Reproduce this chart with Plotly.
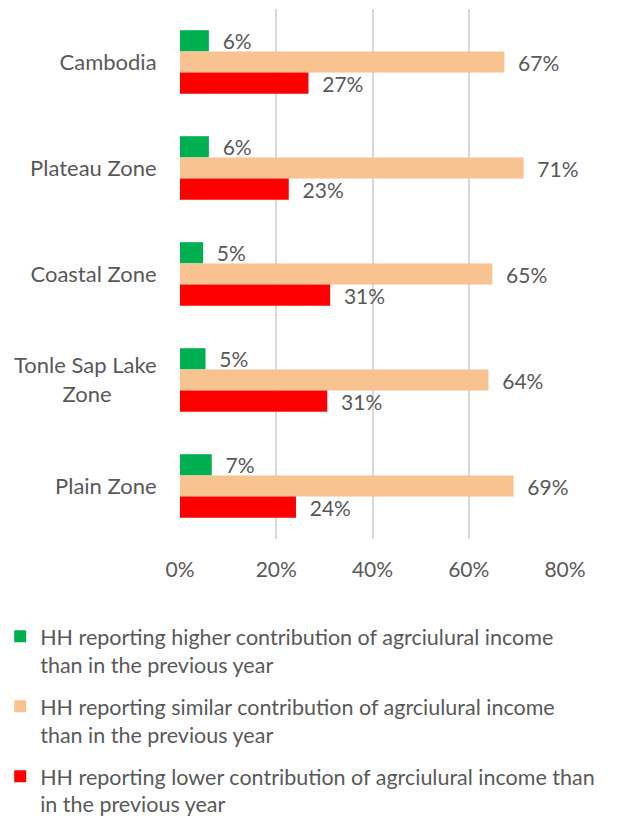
import plotly.graph_objects as go

categories = ["Cambodia", "Plateau Zone", "Coastal Zone", "Tonle Sap Lake<br>Zone" + "\u00a0" * 8, "Plain Zone"]
higher = [0.060, 0.060, 0.048, 0.053, 0.066]
similar = [0.674, 0.714, 0.649, 0.641, 0.693]
lower = [0.267, 0.226, 0.312, 0.306, 0.241]
series_names = [
    "HH reporting higher contribution of agrciulural income<br>than in the previous year",
    "HH reporting similar contribution of agrciulural income<br>than in the previous year",
    "HH reporting lower contribution of agrciulural income than<br>in the previous year",
]
colors = ["#00b050", "#f8c291", "#ff0000"]
tick_vals = [0, 0.2, 0.4, 0.6, 0.8]
tick_text = ["0%", "20%", "40%", "60%", "80%"]

FONT = "Lato"
GRAY = "#595959"

fig = go.Figure()
for name, vals, col, grp in zip(series_names, [higher, similar, lower], colors, ["a", "b", "c"]):
    fig.add_trace(go.Bar(
        y=categories, x=vals, name=name, orientation="h",
        marker=dict(color=col, line=dict(width=0)),
        texttemplate="\u00a0\u00a0%{x:.0%}", textposition="outside",
        textfont=dict(family=FONT, size=21, color=GRAY),
        constraintext="none",
        cliponaxis=False, legendgroup=grp,
    ))

fig.update_layout(
    width=631, height=816,
    margin=dict(l=180, r=66, t=9, b=277, autoexpand=False),
    barmode="group", bargap=0.4, bargroupgap=0,
    plot_bgcolor="white", paper_bgcolor="white",
    font=dict(family=FONT, size=21, color=GRAY),
    xaxis=dict(range=[0, 0.8], tickvals=tick_vals, ticktext=tick_text,
               showgrid=True, gridcolor="#d9d9d9", gridwidth=1.5,
               zeroline=False, showline=False,
               ticks="outside", ticklen=12, tickcolor="rgba(0,0,0,0)",
               tickfont=dict(family=FONT, size=21, color=GRAY)),
    yaxis=dict(autorange="reversed", showgrid=False, zeroline=False, showline=False,
               ticks="outside", ticklen=18, tickcolor="rgba(0,0,0,0)",
               tickfont=dict(family=FONT, size=22, color=GRAY)),
    legend=dict(orientation="v", x=-0.467, xanchor="left", y=-0.145, yanchor="top",
                traceorder="grouped", tracegroupgap=11, valign="top",
                font=dict(family=FONT, size=21.5, color=GRAY),
                itemwidth=30, bgcolor="rgba(0,0,0,0)"),
    showlegend=True,
)

fig.write_html("out.html")
